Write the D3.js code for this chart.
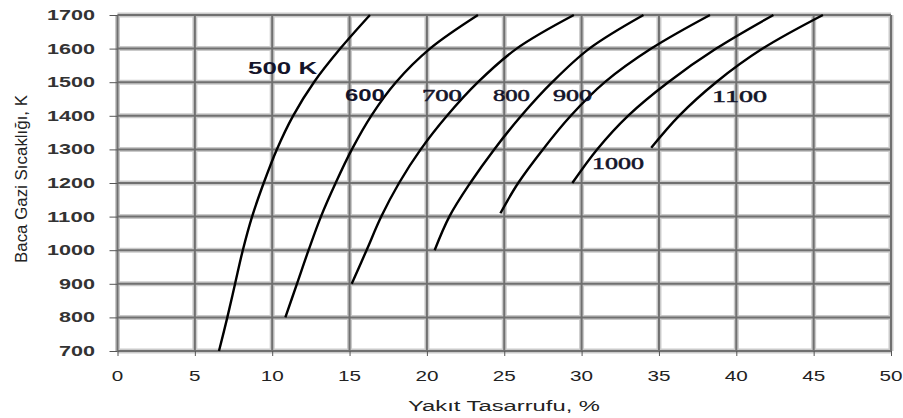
<!DOCTYPE html>
<html>
<head>
<meta charset="utf-8">
<script src="https://cdn.jsdelivr.net/npm/d3@7"></script>
<style>
  html, body { margin: 0; padding: 0; background: #fff; }
  svg { display: block; }
</style>
</head>
<body>
<svg id="chart" width="903" height="418"></svg>
<script>
// Fuel saving (%) versus flue gas temperature (K), one curve per preheated air temperature
const xTicks = [0, 5, 10, 15, 20, 25, 30, 35, 40, 45, 50];
const yTicks = [700, 800, 900, 1000, 1100, 1200, 1300, 1400, 1500, 1600, 1700];

const temp500 = [700, 800, 900, 1000, 1100, 1200, 1300, 1400, 1500, 1600, 1700];
const save500 = [6.56, 7.1, 7.6, 8.1, 8.7, 9.45, 10.3, 11.35, 12.7, 14.4, 16.32];

const temp600 = [800, 900, 1000, 1100, 1200, 1300, 1400, 1500, 1600, 1700];
const save600 = [10.85, 11.6, 12.35, 13.15, 14.1, 15.15, 16.4, 18.0, 20.2, 23.3];

const temp700 = [900, 1000, 1100, 1200, 1300, 1400, 1500, 1600, 1700];
const save700 = [15.14, 16.1, 17.05, 18.2, 19.6, 21.3, 23.3, 25.8, 29.5];

const temp800 = [1000, 1100, 1200, 1300, 1400, 1500, 1600, 1700];
const save800 = [20.5, 21.45, 22.8, 24.35, 26.1, 28.1, 30.5, 34.0];

const temp900 = [1110, 1200, 1300, 1400, 1500, 1600, 1700];
const save900 = [24.75, 25.9, 27.5, 29.3, 31.5, 34.5, 38.3];

const temp1000 = [1200, 1300, 1400, 1500, 1600, 1700];
const save1000 = [29.4, 31.0, 33.0, 35.6, 38.7, 42.4];

const temp1100 = [1305, 1400, 1500, 1600, 1700];
const save1100 = [34.5, 36.3, 38.7, 41.7, 45.6];

const curveNames = ["500 K", "600", "700", "800", "900", "1000", "1100"];
// label anchor (left end of text baseline) in data units
const labelSave = [8.44, 14.7, 19.68, 24.27, 28.15, 30.67, 38.43];
const labelTemp = [1524, 1444, 1444, 1444, 1444, 1242, 1441];

const xTitle = "Yakıt Tasarrufu, %";
const yTitle = "Baca Gazi Sıcaklığı, K";

// ---- drawing ----
const svg = d3.select("#chart");
const plotLeft = 117.5, plotRight = 891, plotTop = 15, plotBottom = 351;

const x = d3.scaleLinear().domain([0, 50]).range([plotLeft, plotRight]);
const y = d3.scaleLinear().domain([700, 1700]).range([plotBottom, plotTop]);

const grid = svg.append("g");

// soft halo under each grid line, then the darker core
function gridLines(cls, color, width) {
  const g = grid.append("g").attr("class", cls);
  g.selectAll("line.v").data(xTicks).join("line")
    .attr("x1", d => x(d)).attr("x2", d => x(d))
    .attr("y1", plotTop).attr("y2", plotBottom)
    .attr("stroke", color).attr("stroke-width", width);
  g.selectAll("line.h").data(yTicks).join("line")
    .attr("x1", plotLeft).attr("x2", plotRight)
    .attr("y1", d => y(d)).attr("y2", d => y(d))
    .attr("stroke", color).attr("stroke-width", width);
}
gridLines("halo", "#cacaca", 5);
gridLines("core", "#707070", 2);

// axes with outward ticks
const xAxis = d3.axisBottom(x).tickValues(xTicks).tickSize(5).tickFormat("");
const yAxis = d3.axisLeft(y).tickValues(yTicks).tickSize(8).tickFormat("");
const gx = svg.append("g").attr("transform", `translate(0,${plotBottom})`).call(xAxis);
const gy = svg.append("g").attr("transform", `translate(${plotLeft},0)`).call(yAxis);
[gx, gy].forEach(g => {
  g.select(".domain").remove();
  g.selectAll(".tick line").attr("stroke", "#555").attr("stroke-width", 1);
});

// tick labels
svg.append("g").selectAll("text").data(xTicks).join("text")
  .attr("x", d => x(d)).attr("y", 381)
  .attr("text-anchor", "middle")
  .attr("font-family", "Liberation Sans, Arial, sans-serif")
  .attr("font-size", 14).attr("fill", "#222")
  .attr("textLength", d => String(d).length * 11.5)
  .attr("lengthAdjust", "spacingAndGlyphs")
  .text(d => d);

svg.append("g").selectAll("text").data(yTicks).join("text")
  .attr("x", 95).attr("y", d => y(d) + 5)
  .attr("text-anchor", "end")
  .attr("font-family", "Liberation Sans, Arial, sans-serif")
  .attr("font-size", 14).attr("font-weight", "bold").attr("fill", "#333")
  .attr("textLength", d => String(d).length * 12)
  .attr("lengthAdjust", "spacingAndGlyphs")
  .text(d => d);

// axis titles
svg.append("text")
  .attr("x", 504).attr("y", 411)
  .attr("text-anchor", "middle")
  .attr("font-family", "Liberation Sans, Arial, sans-serif")
  .attr("font-size", 14).attr("fill", "#222")
  .attr("textLength", 192).attr("lengthAdjust", "spacingAndGlyphs")
  .text(xTitle);

svg.append("g")
  .attr("transform", "translate(27,179) scale(1.3,1) rotate(-90)")
  .append("text")
  .attr("x", 0).attr("y", 0)
  .attr("text-anchor", "middle")
  .attr("font-family", "Liberation Sans, Arial, sans-serif")
  .attr("font-size", 13).attr("fill", "#222")
  .attr("textLength", 168).attr("lengthAdjust", "spacingAndGlyphs")
  .text(yTitle);

// curves
const curves = [
  [save500, temp500], [save600, temp600], [save700, temp700], [save800, temp800],
  [save900, temp900], [save1000, temp1000], [save1100, temp1100]
].map(([s, t]) => s.map((v, i) => ({ s: v, t: t[i] })));

const line = d3.line()
  .x(d => x(d.s)).y(d => y(d.t))
  .curve(d3.curveCatmullRom.alpha(0.5));

svg.append("g").selectAll("path").data(curves).join("path")
  .attr("d", line)
  .attr("fill", "none")
  .attr("stroke", "#000")
  .attr("stroke-width", 2.4)
  .attr("stroke-linecap", "butt");

// curve labels
const labelWidths = [69, 40, 40, 37, 39, 52, 55];
svg.append("g").selectAll("text").data(curveNames).join("text")
  .attr("x", (d, i) => x(labelSave[i]))
  .attr("y", (d, i) => y(labelTemp[i]))
  .attr("font-family", (d, i) => i < 2 ? "Liberation Sans, Arial, sans-serif" : "Liberation Serif, Times New Roman, serif")
  .attr("font-size", 16)
  .attr("font-weight", (d, i) => i < 2 ? "bold" : "normal")
  .attr("fill", "#14142a")
  .attr("stroke", "#14142a")
  .attr("stroke-width", (d, i) => i < 2 ? 0 : 0.5)
  .attr("textLength", (d, i) => labelWidths[i])
  .attr("lengthAdjust", "spacingAndGlyphs")
  .text(d => d);
</script>
</body>
</html>
